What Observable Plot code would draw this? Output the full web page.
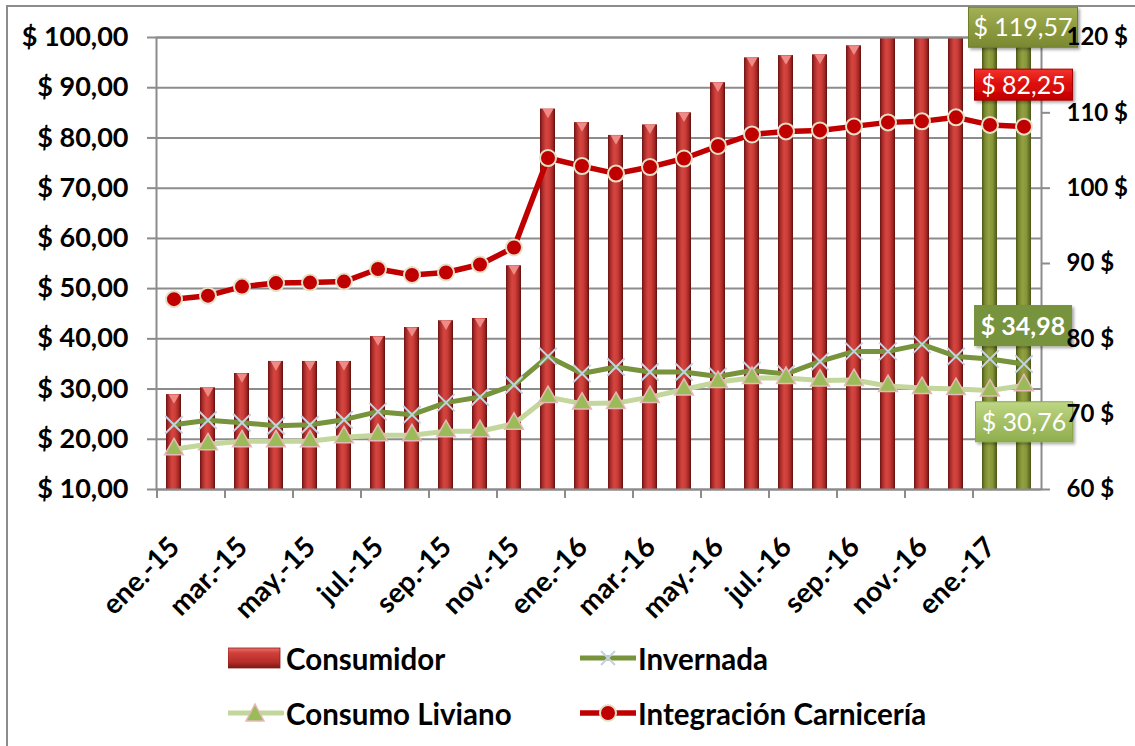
<!DOCTYPE html>
<html><head><meta charset="utf-8">
<script src="https://cdn.jsdelivr.net/npm/d3@7"></script>
<script src="https://cdn.jsdelivr.net/npm/@observablehq/plot@0.6"></script>
<style>
html,body{margin:0;padding:0;background:#fff;overflow:hidden;width:1135px;height:746px;}
#marco{position:absolute;left:6px;top:5px;width:1300px;height:900px;border:2px solid #8c8c8c;box-sizing:border-box;}
#grafico{position:absolute;left:0;top:0;}
#leyenda{position:absolute;left:0;top:620px;width:1135px;height:126px;font-family:Lato,sans-serif;font-weight:bold;font-size:29.5px;color:#000;}
.item{position:absolute;display:flex;align-items:center;height:40px;white-space:nowrap;}
.item svg{display:block;margin-right:2px;}
</style></head><body>
<div id="marco"></div>
<div id="grafico"></div>
<div id="leyenda"></div>
<script>
const meses = ["ene.-15","feb.-15","mar.-15","abr.-15","may.-15","jun.-15","jul.-15","ago.-15","sep.-15","oct.-15","nov.-15","dic.-15",
  "ene.-16","feb.-16","mar.-16","abr.-16","may.-16","jun.-16","jul.-16","ago.-16","sep.-16","oct.-16","nov.-16","dic.-16",
  "ene.-17","feb.-17"];
// Consumidor (eje derecho, $)
const consumidor = [72.6, 73.5, 75.4, 77.0, 77.0, 77.0, 80.3, 81.5, 82.4, 82.7, 89.7, 110.5,
  108.7, 107.0, 108.4, 110.0, 114.0, 117.3, 117.6, 117.7, 118.9, 121.0, 122.0, 122.5, 120.9, 119.57];
// Eje izquierdo ($)
const invernada = [22.9, 23.8, 23.3, 22.7, 22.9, 23.9, 25.5, 24.9, 27.3, 28.4, 30.8, 36.5,
  33.1, 34.4, 33.4, 33.4, 32.5, 33.7, 33.0, 35.5, 37.5, 37.5, 38.9, 36.5, 36.0, 34.98];
const consumoLiviano = [18.0, 19.0, 19.6, 19.6, 19.6, 20.4, 20.8, 20.8, 21.6, 21.6, 23.1, 28.4,
  27.1, 27.2, 28.4, 29.9, 31.4, 32.2, 32.2, 31.7, 31.8, 30.6, 30.2, 30.0, 29.7, 30.76];
const integracion = [47.9, 48.6, 50.4, 51.1, 51.2, 51.4, 53.9, 52.7, 53.2, 54.8, 58.2, 76.0,
  74.4, 72.9, 74.2, 75.9, 78.4, 80.7, 81.3, 81.5, 82.3, 83.1, 83.3, 84.1, 82.6, 82.25];
const destacados = ["ene.-17","feb.-17"];
const ticksIzq = [10,20,30,40,50,60,70,80,90,100];
const ticksDer = [60,70,80,90,100,110,120];
const etiquetasX = meses.filter((m,i) => i % 2 === 0);
const etiquetasFinales = [
  {serie:"consumidor", texto:"$ 119,57"},
  {serie:"integracion", texto:"$ 82,25"},
  {serie:"invernada", texto:"$ 34,98"},
  {serie:"consumoLiviano", texto:"$ 30,76"}
];

// eje derecho (60–120) -> eje izquierdo (10–100)
const aIzq = r => 10 + (r - 60) * 1.5;
const aDer = l => 60 + (l - 10) / 1.5;

const datos = meses.map((mes, i) => ({
  mes, consumidor: consumidor[i], invernada: invernada[i],
  consumoLiviano: consumoLiviano[i], integracion: integracion[i]
}));

const W = 1135, H = 620, mL = 156, mR = 94, mT = 37, mB = 131;
const paso = (W - mL - mR) / meses.length;
const font = "Lato, sans-serif";
const gris = "#8c8c8c";

const svg = Plot.plot({
  width: W, height: H,
  marginLeft: mL, marginRight: mR, marginTop: mT, marginBottom: mB,
  style: {fontFamily: font, fontSize: "26px", fontWeight: "bold", color: "#000", background: "transparent", overflow: "visible"},
  x: {type: "band", domain: meses, paddingInner: 0.57, paddingOuter: 0.285, axis: null, label: null},
  y: {domain: [10, 100], axis: null, label: null},
  marks: [
    Plot.ruleY(ticksIzq, {stroke: gris, strokeWidth: 2}),
    Plot.barY(datos, {filter: d => !destacados.includes(d.mes), x: "mes", y1: () => 10, y2: d => aIzq(d.consumidor), fill: "url(#gRojo)", clip: true}),
    Plot.barY(datos, {filter: d => destacados.includes(d.mes), x: "mes", y1: () => 10, y2: d => aIzq(d.consumidor), fill: "url(#gVerde)", clip: true}),
    Plot.dot(datos, {filter: d => !destacados.includes(d.mes) && d.consumidor < 120, x: "mes", y: d => aIzq(d.consumidor), symbol: "triangle", rotate: 180, r: 4, fill: "#f08a86", dy: 3}),
    Plot.frame({stroke: gris, strokeWidth: 2}),
    Plot.axisY({anchor: "left", ticks: ticksIzq, tickSize: 9, tickPadding: 19, label: null, tickFormat: d => "$ " + d.toFixed(2).replace(".", ","), stroke: gris, strokeWidth: 2, fontSize: 27, fontWeight: "bold", fill: "#000"}),
    Plot.axisX({ticks: etiquetasX, tickSize: 9, text: null, label: null, dx: -paso / 2, stroke: gris, strokeWidth: 2}),
    Plot.text(etiquetasX, {x: d => d, y: () => 10, text: d => d, rotate: -45, textAnchor: "end", lineAnchor: "middle", dy: 53, dx: 1, fontSize: 28, fontWeight: "bold", fill: "#000", style: {letterSpacing: "1px"}}),
    Plot.lineY(datos, {x: "mes", y: "invernada", stroke: "#77933c", strokeWidth: 5}),
    Plot.dot(datos, {x: "mes", y: "invernada", symbol: "times", r: 8, stroke: "#c5d2e2", strokeWidth: 2}),
    Plot.lineY(datos, {x: "mes", y: "consumoLiviano", stroke: "#c3d69b", strokeWidth: 5}),
    Plot.dot(datos, {x: "mes", y: "consumoLiviano", symbol: "triangle", r: 7, fill: "#9bbb59", stroke: "#e6b9b8", strokeWidth: 1.5}),
    Plot.lineY(datos, {x: "mes", y: "integracion", stroke: "#c00000", strokeWidth: 5.5}),
    Plot.dot(datos, {x: "mes", y: "integracion", r: 8, fill: "#c00000", stroke: "#e4e0c8", strokeWidth: 2}),
    Plot.axisY({anchor: "right", ticks: ticksDer.map(aIzq), tickSize: 8, tickPadding: 17, label: null, tickFormat: l => Math.round(aDer(l)) + " $", stroke: gris, strokeWidth: 2, fontSize: 24, fontWeight: "bold", fill: "#000"})
  ]
});

// gradientes
const s = d3.select(svg);
const defs = s.insert("defs", ":first-child");
function grad(id, stops, vertical) {
  const g = defs.append("linearGradient").attr("id", id)
    .attr("x1", 0).attr("y1", 0).attr("x2", vertical ? 0 : 1).attr("y2", vertical ? 1 : 0);
  stops.forEach(([o, c]) => g.append("stop").attr("offset", o).attr("stop-color", c));
}
grad("gRojo", [[0,"#6a1411"],[0.15,"#a5292a"],[0.4,"#d4463f"],[0.62,"#cd3d38"],[0.85,"#a02623"],[1,"#5c100d"]]);
grad("gVerde", [[0,"#4d5718"],[0.2,"#7a8a30"],[0.45,"#93a142"],[0.7,"#85953a"],[1,"#4c5619"]]);
grad("gCajaOliva", [[0,"#a3b055"],[0.5,"#8e9c40"],[1,"#7a8832"]], true);
grad("gCajaRoja", [[0,"#f2332e"],[0.5,"#dd0c0a"],[1,"#c00000"]], true);
grad("gCajaVerde", [[0,"#bed684"],[0.5,"#a5c166"],[1,"#8fae4f"]], true);
const filt = defs.append("filter").attr("id", "sombra").attr("x", "-20%").attr("y", "-20%").attr("width", "150%").attr("height", "160%");
filt.append("feDropShadow").attr("dx", 2).attr("dy", 2).attr("stdDeviation", 1.5).attr("flood-color", "#000").attr("flood-opacity", 0.35);

// etiquetas de los últimos valores
const xs = svg.scale("x"), ys = svg.scale("y");
const ultimo = datos[datos.length - 1];
const cx = xs.apply(ultimo.mes) + xs.bandwidth / 2;
const estilos = {
  consumidor: {fill: "url(#gCajaOliva)", stroke: "#6f7d2b", y0: -33, y1: 7, w0: -55, w1: 54, bold: false},
  integracion: {fill: "url(#gCajaRoja)", stroke: "#a40000", y0: -57, y1: -26, w0: -49, w1: 49, bold: false},
  invernada: {fill: "#77933c", stroke: "#77933c", y0: -58, y1: -18, w0: -49, w1: 48, bold: true},
  consumoLiviano: {fill: "url(#gCajaVerde)", stroke: "#8aa84a", y0: 17, y1: 57, w0: -48, w1: 49, bold: false}
};
const gEt = document.createElementNS("http://www.w3.org/2000/svg", "g");
etiquetasFinales.forEach(e => {
  const v = e.serie === "consumidor" ? aIzq(ultimo.consumidor) : ultimo[e.serie];
  const cy = ys.apply(v);
  const st = estilos[e.serie];
  const g = d3.select(gEt).append("g");
  g.append("rect").attr("x", cx + st.w0).attr("y", cy + st.y0)
    .attr("width", st.w1 - st.w0).attr("height", st.y1 - st.y0)
    .attr("fill", st.fill).attr("stroke", st.stroke).attr("stroke-width", 1)
    .attr("filter", "url(#sombra)");
  g.append("text").attr("x", cx + (st.w0 + st.w1) / 2).attr("y", cy + (st.y0 + st.y1) / 2)
    .attr("dy", "0.36em").attr("text-anchor", "middle").attr("fill", "#fff")
    .attr("font-family", font).attr("font-size", 25).attr("font-weight", st.bold ? "bold" : "normal")
    .text(e.texto);
});
const ejes = svg.querySelectorAll('g[aria-label="y-axis tick label"]');
const ejeDer = ejes[ejes.length - 1];
if (ejeDer) ejeDer.parentNode.insertBefore(gEt, ejeDer); else svg.appendChild(gEt);

document.getElementById("grafico").appendChild(svg);

// leyenda
const ley = document.getElementById("leyenda");
function item(left, top, texto, dibujo) {
  const div = document.createElement("div");
  div.className = "item";
  div.style.left = left + "px"; div.style.top = (top - 20) + "px";
  const sv = d3.create("svg").attr("width", 56).attr("height", 40);
  dibujo(sv);
  div.appendChild(sv.node());
  const t = document.createElement("span"); t.textContent = texto;
  div.appendChild(t);
  ley.appendChild(div);
}
const leyendaSeries = ["Consumidor", "Invernada", "Consumo Liviano", "Integración Carnicería"];
item(228, 38, leyendaSeries[0], sv => {
  const g = sv.append("defs").append("linearGradient").attr("id", "gLey").attr("x1",0).attr("y1",0).attr("x2",0).attr("y2",1);
  [[0,"#e9716b"],[0.25,"#d0403a"],[0.7,"#b62d29"],[1,"#7a1815"]].forEach(([o,c]) => g.append("stop").attr("offset",o).attr("stop-color",c));
  sv.append("rect").attr("x", 0).attr("y", 10).attr("width", 52).attr("height", 20).attr("fill", "url(#gLey)").attr("stroke", "#8a1e1b").attr("stroke-width", 0.8);
});
item(580, 38, leyendaSeries[1], sv => {
  sv.append("line").attr("x1", 0).attr("x2", 56).attr("y1", 20).attr("y2", 20).attr("stroke", "#77933c").attr("stroke-width", 5).attr("stroke-linecap", "round");
  sv.append("path").attr("d", "M21,13L35,27M35,13L21,27").attr("stroke", "#c5d2e2").attr("stroke-width", 2);
});
item(228, 93, leyendaSeries[2], sv => {
  sv.append("line").attr("x1", 0).attr("x2", 54).attr("y1", 20).attr("y2", 20).attr("stroke", "#c3d69b").attr("stroke-width", 5).attr("stroke-linecap", "round");
  sv.append("path").attr("d", "M27,11L36,28L18,28Z").attr("fill", "#9bbb59").attr("stroke", "#e6b9b8").attr("stroke-width", 1.5);
});
item(580, 93, leyendaSeries[3], sv => {
  sv.append("line").attr("x1", 0).attr("x2", 56).attr("y1", 20).attr("y2", 20).attr("stroke", "#c00000").attr("stroke-width", 5.5).attr("stroke-linecap", "round");
  sv.append("circle").attr("cx", 28).attr("cy", 20).attr("r", 8).attr("fill", "#c00000").attr("stroke", "#e4e0c8").attr("stroke-width", 2);
});
</script>
</body></html>
